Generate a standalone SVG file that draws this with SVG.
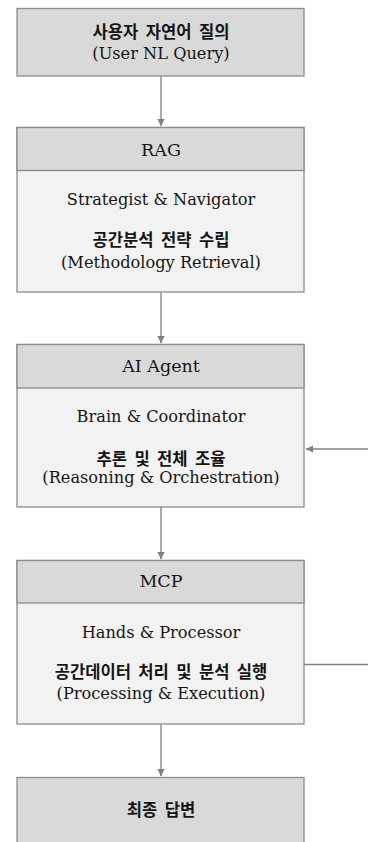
<svg xmlns="http://www.w3.org/2000/svg" width="368" height="842" viewBox="0 0 368 842">
<style>
.hd{fill:#d9d9d9;stroke:#8c8c8c;stroke-width:1.3}
.bd{fill:#f2f2f2;stroke:#8c8c8c;stroke-width:1.3}
.t{font-family:"DejaVu Serif","Liberation Serif","Noto Sans CJK KR",serif;fill:#151515;text-anchor:middle}
.en{font-size:16.2px}
.h{font-size:17.5px}
.ko{font-family:"Noto Sans CJK KR","DejaVu Serif",sans-serif;font-weight:bold;font-size:16.6px;word-spacing:3.6px;fill:#151515;text-anchor:middle}
.ln{stroke:#808080;stroke-width:1.3;fill:none}
</style>
<defs>
<marker id="ah" markerWidth="8" markerHeight="8" refX="7" refY="4" orient="auto" markerUnits="userSpaceOnUse">
<path d="M0,0.5 L7.5,4 L0,7.5 Z" fill="#808080"/>
</marker>
</defs>
<g id="connectors">
<line class="ln" x1="161" y1="76" x2="161" y2="126" marker-end="url(#ah)"/>
<line class="ln" x1="161" y1="292" x2="161" y2="343" marker-end="url(#ah)"/>
<line class="ln" x1="161" y1="507" x2="161" y2="559" marker-end="url(#ah)"/>
<line class="ln" x1="161" y1="724" x2="161" y2="776" marker-end="url(#ah)"/>
<line class="ln" x1="368" y1="449" x2="306" y2="449" marker-end="url(#ah)"/>
<line class="ln" x1="304" y1="664.5" x2="368" y2="664.5"/>
</g>
<g id="query">
<rect class="hd" x="17" y="8.5" width="287" height="67.5"/>
<text class="ko" x="161" y="38">사용자 자연어 질의</text>
<text class="t en" x="161" y="59">(User NL Query)</text>
</g>
<g id="rag">
<rect class="bd" x="17" y="127.5" width="287" height="164.5"/>
<rect class="hd" x="17" y="127.5" width="287" height="43"/>
<text class="t h" x="161" y="156">RAG</text>
<text class="t en" x="161" y="205">Strategist &amp; Navigator</text>
<text class="ko" x="161" y="246">공간분석 전략 수립</text>
<text class="t en" x="161" y="268">(Methodology Retrieval)</text>
</g>
<g id="agent">
<rect class="bd" x="17" y="344.5" width="287" height="162.5"/>
<rect class="hd" x="17" y="344.5" width="287" height="43.5"/>
<text class="t h" x="161" y="372">AI Agent</text>
<text class="t en" x="161" y="422">Brain &amp; Coordinator</text>
<text class="ko" x="161" y="465">추론 및 전체 조율</text>
<text class="t en" x="161" y="483">(Reasoning &amp; Orchestration)</text>
</g>
<g id="mcp">
<rect class="bd" x="17" y="560.5" width="287" height="163.5"/>
<rect class="hd" x="17" y="560.5" width="287" height="42.5"/>
<text class="t h" x="161" y="587">MCP</text>
<text class="t en" x="161" y="638">Hands &amp; Processor</text>
<text class="ko" x="161" y="678">공간데이터 처리 및 분석 실행</text>
<text class="t en" x="161" y="699">(Processing &amp; Execution)</text>
</g>
<g id="answer">
<rect class="hd" x="17" y="777.5" width="287" height="70"/>
<text class="ko" x="161" y="816">최종 답변</text>
</g>
</svg>
